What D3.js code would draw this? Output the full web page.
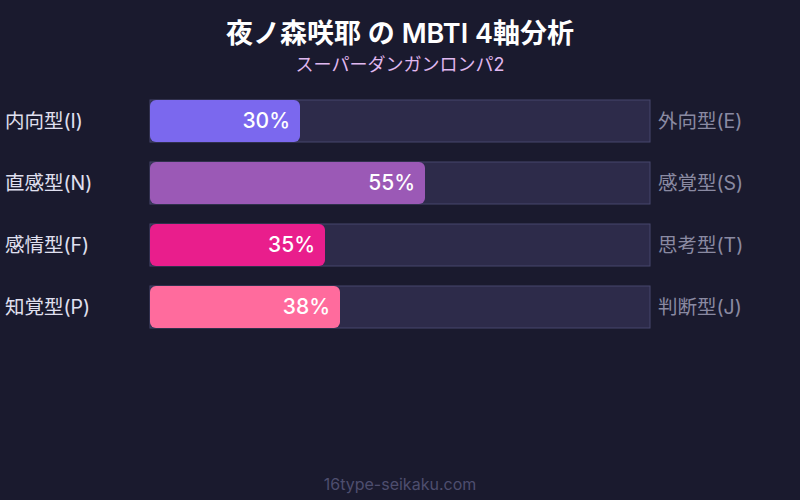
<!DOCTYPE html>
<html><head><meta charset="utf-8">
<script src="https://cdn.jsdelivr.net/npm/d3@7"></script>
<style>body{margin:0;background:#1a1a2e;}svg{display:block;font-family:Inter,"Noto Sans CJK JP",sans-serif;}</style>
</head><body>
<script>
const leftLabels = ["内向型(I)", "直感型(N)", "感情型(F)", "知覚型(P)"];
const rightLabels = ["外向型(E)", "感覚型(S)", "思考型(T)", "判断型(J)"];
const values = [30, 55, 35, 38];
const colors = ["#7b68ee", "#9b59b6", "#e91e8c", "#ff6b9d"];

const W = 800, H = 500;
const svg = d3.select("body").append("svg").attr("width", W).attr("height", H);
svg.append("rect").attr("width", W).attr("height", H).attr("fill", "#1a1a2e");

svg.append("text").attr("x", 400).attr("y", 43).attr("text-anchor", "middle")
  .attr("fill", "#ffffff").attr("font-size", 27).attr("font-weight", 600).text("夜ノ森咲耶 の MBTI 4軸分析");
svg.append("text").attr("x", 400).attr("y", 71).attr("text-anchor", "middle")
  .attr("fill", "#e0b8f0").attr("font-size", 18).text("スーパーダンガンロンパ2");

const x = d3.scaleLinear().domain([0, 100]).range([150, 650]);
const y = d3.scaleBand().domain(d3.range(values.length)).range([100, 328]).paddingInner(20/62).paddingOuter(0);

const g = svg.append("g");
const rows = g.selectAll("g.row").data(values).join("g").attr("class", "row");

rows.append("rect").attr("x", x(0)).attr("y", (d, i) => y(i)).attr("width", x(100) - x(0)).attr("height", y.bandwidth())
  .attr("fill", "#2d2b4a").attr("stroke", "#47476c").attr("stroke-width", 1);
rows.append("rect").attr("x", x(0)).attr("y", (d, i) => y(i)).attr("width", d => x(d) - x(0)).attr("height", y.bandwidth())
  .attr("rx", 6).attr("ry", 6).attr("fill", (d, i) => colors[i]);
rows.append("text").attr("x", d => x(d) - 10).attr("y", (d, i) => y(i) + y.bandwidth() / 2).attr("dy", "0.35em")
  .attr("text-anchor", "end").attr("fill", "#ffffff").attr("font-size", 21).attr("font-weight", 500).text(d => d + "%");
rows.append("text").attr("x", 5).attr("y", (d, i) => y(i) + y.bandwidth() / 2).attr("dy", "0.35em")
  .attr("fill", "#e0e0f0").attr("font-size", 19.5).text((d, i) => leftLabels[i]);
rows.append("text").attr("x", 658).attr("y", (d, i) => y(i) + y.bandwidth() / 2).attr("dy", "0.35em")
  .attr("fill", "#8a8aa2").attr("font-size", 19.5).text((d, i) => rightLabels[i]);

svg.append("text").attr("x", 400).attr("y", 490).attr("text-anchor", "middle")
  .attr("fill", "#4e4e6e").attr("font-size", 16).text("16type-seikaku.com");
</script>
</body></html>
